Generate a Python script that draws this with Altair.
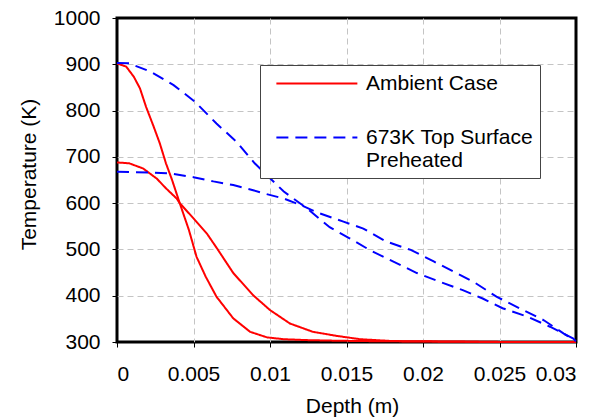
import altair as alt
import pandas as pd

SERIES = ["Ambient Case", "673K Top Surface Preheated"]

# Ambient case, hot-surface curve (starts ~900 K)
amb_hi_depth = [0, 0.0006, 0.0011, 0.0015, 0.0019, 0.0024, 0.0028, 0.0032, 0.0036, 0.0040,
                0.0041, 0.0047, 0.0052, 0.0058, 0.0065, 0.0076, 0.0087, 0.0098, 0.0109,
                0.0125, 0.014, 0.016, 0.02, 0.025, 0.03]
amb_hi_temp = [902, 895, 873, 848, 808, 765, 729, 686, 650, 610,
               600, 542, 484, 441, 398, 351, 322, 310, 306,
               304, 303, 302, 301, 300, 300]

# Ambient case, lower curve (starts ~690 K)
amb_lo_depth = [0, 0.0008, 0.0017, 0.0026, 0.0032, 0.0039, 0.0041, 0.005, 0.0059, 0.0065,
                0.0076, 0.0089, 0.01, 0.0113, 0.0128, 0.0144, 0.0159, 0.018, 0.022, 0.026, 0.03]
amb_lo_temp = [688, 686, 675, 653, 632, 610, 600, 567, 533, 504,
               449, 401, 369, 340, 322, 313, 306, 302, 301, 300, 300]

# Preheated, hot-surface curve (starts ~900 K)
pre_hi_depth = [0, 0.0008, 0.0022, 0.0037, 0.0051, 0.0065, 0.0078, 0.009, 0.0109, 0.0124,
                0.0139, 0.0152, 0.0165, 0.0181, 0.0196, 0.0211, 0.0226, 0.0239, 0.0252,
                0.0268, 0.0283, 0.0298, 0.03]
pre_hi_temp = [903, 902, 884, 855, 819, 772, 733, 686, 625, 589,
               548, 524, 499, 473, 449, 430, 412, 394, 373,
               355, 333, 308, 302]

# Preheated, lower curve (starts ~670 K)
pre_lo_depth = [0, 0.0022, 0.0035, 0.005, 0.0063, 0.0076, 0.0089, 0.0096, 0.0109, 0.012,
                0.013, 0.0148, 0.0161, 0.0176, 0.0192, 0.0207, 0.022, 0.0233, 0.0248,
                0.0263, 0.0279, 0.0292, 0.03]
pre_lo_temp = [668, 666, 664, 656, 647, 639, 628, 621, 610, 596,
               581, 560, 545, 517, 499, 474, 452, 430, 398,
               373, 347, 318, 302]

x_ticks = [0, 0.005, 0.01, 0.015, 0.02, 0.025, 0.03]
y_ticks = [300, 400, 500, 600, 700, 800, 900, 1000]

rows = []
for cid, series, ds, ts in [
    ("a1", SERIES[0], amb_hi_depth, amb_hi_temp),
    ("a2", SERIES[0], amb_lo_depth, amb_lo_temp),
    ("p1", SERIES[1], pre_hi_depth, pre_hi_temp),
    ("p2", SERIES[1], pre_lo_depth, pre_lo_temp),
]:
    for d, t in zip(ds, ts):
        rows.append({"curve": cid, "series": series, "depth": d, "temp": t})
df = pd.DataFrame(rows)

FONT = "Liberation Sans"
FS = 21

legend = alt.Legend(
    title=None, orient="none", legendX=143, legendY=47,
    fillColor="white", strokeColor="#444444", padding=7,
    symbolType="M-1,0H7", symbolSize=410, symbolStrokeWidth=2, symbolOffset=8,
    labelFontSize=FS, labelFont=FONT, labelColor="black",
    labelOffset=68, labelLimit=400, rowPadding=32,
    labelExpr="datum.label == '673K Top Surface Preheated' ? ['673K Top Surface', 'Preheated'] : datum.label",
)

x_grid = {"condition": {"test": "datum.value <= 0 || datum.value >= 0.03", "value": 0}, "value": 1}
y_grid = {"condition": {"test": "datum.value <= 300 || datum.value >= 1000", "value": 0}, "value": 1}

chart = alt.Chart(df).mark_line(strokeWidth=2).encode(
    x=alt.X("depth:Q", scale=alt.Scale(domain=[0, 0.03], nice=False),
            axis=alt.Axis(values=x_ticks, format="~g", title="Depth (m)",
                          labelPadding=16, titleX=235, titleY=53, gridOpacity=x_grid,
                          titleBaseline="top", titleAlign="center")),
    y=alt.Y("temp:Q", scale=alt.Scale(domain=[300, 1000], nice=False, zero=False),
            axis=alt.Axis(values=y_ticks, format="d", title="Temperature (K)",
                          labelPadding=12, titleX=-78, titleY=156, titleAngle=270,
                          gridOpacity=y_grid,
                          titleBaseline="bottom", titleAlign="center")),
    color=alt.Color("series:N", scale=alt.Scale(domain=SERIES, range=["#ff0000", "#0000ff"]),
                    legend=legend),
    strokeDash=alt.StrokeDash("series:N", scale=alt.Scale(domain=SERIES, range=[[1, 0], [12, 7]]),
                              legend=legend),
    detail="curve:N",
).properties(
    width=459, height=324,
    autosize=alt.AutoSizeParams(type="none"),
    padding={"left": 109, "top": 10, "right": 18, "bottom": 75},
).configure_view(
    stroke="black", strokeWidth=3
).configure_axis(
    domain=False, grid=True, gridColor="#c4c4c4", gridDash=[6, 4], gridWidth=1,
    tickColor="black", tickSize=5, tickWidth=1,
    labelFont=FONT, labelFontSize=FS, labelColor="black",
    titleFont=FONT, titleFontSize=FS, titleFontWeight="normal", titleColor="black",
)

chart.save("out.html", embed_options={"renderer": "svg", "actions": False})
